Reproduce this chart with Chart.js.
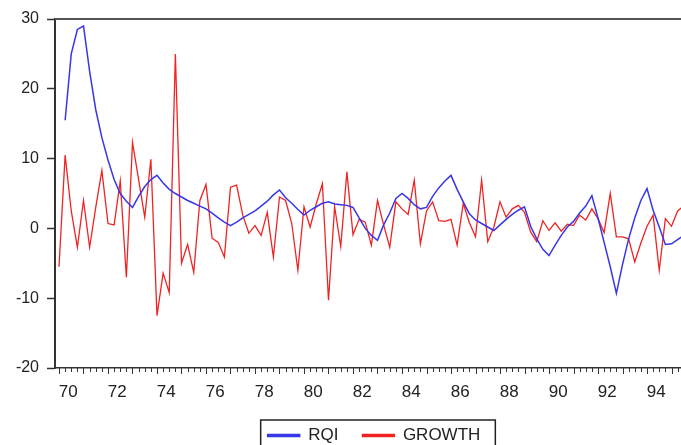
<!DOCTYPE html>
<html>
<head>
<meta charset="utf-8">
<script src="https://cdn.jsdelivr.net/npm/chart.js@4.4.1/dist/chart.umd.min.js"></script>
<style>
    html, body { margin: 0; padding: 0; background: #fff; overflow: hidden; }
    #wrap { width: 681px; height: 445px; overflow: hidden; }
</style>
</head>
<body>
<div id="wrap"><canvas id="chart" width="748" height="454"></canvas></div>
<script>
// Quarterly data, first observation 1970Q1
const startYear = 1970;

const growth = [
    -5.5, 10.5, 2.5, -2.7, 4.0, -2.7, 3.0, 8.3, 0.7, 0.5,
    6.8, -7.0, 12.3, 7.0, 1.6, 9.9, -12.5, -6.4, -9.2, 25.0,
    -5.0, -2.3, -6.3, 4.0, 6.3, -1.4, -2.0, -4.1, 5.9, 6.2,
    1.9, -0.7, 0.4, -1.0, 2.3, -4.1, 4.5, 4.0, 0.7, -6.0,
    3.1, 0.2, 3.5, 6.4, -10.3, 3.1, -2.6, 8.1, -0.9, 1.3,
    0.9, -2.4, 4.0, 0.5, -2.7, 3.8, 2.8, 2.0, 6.9, -2.2,
    2.5, 3.8, 1.1, 1.0, 1.3, -2.4, 3.6, 0.8, -1.2, 6.9,
    -1.9, 0.2, 3.8, 1.6, 2.8, 3.3, 2.3, -0.5, -1.9, 1.1,
    -0.3, 0.8, -0.4, 0.6, 0.4, 1.9, 1.2, 2.8, 1.4, -0.6,
    5.0, -1.2, -1.2, -1.5, -4.8, -2.1, 0.3, 1.9, -6.0, 1.4,
    0.3, 2.5, 3.2
];

const rqi = [
    null, 15.5, 25.0, 28.5, 29.0, 22.5, 17.0, 13.0, 9.8, 7.0,
    5.0, 3.9, 3.0, 4.6, 6.0, 7.0, 7.6, 6.5, 5.6, 5.0,
    4.5, 4.0, 3.6, 3.2, 2.8, 2.2, 1.5, 0.9, 0.4, 0.9,
    1.5, 2.0, 2.5, 3.2, 3.9, 4.8, 5.5, 4.4, 3.6, 2.7,
    1.9, 2.6, 3.1, 3.6, 3.8, 3.5, 3.4, 3.3, 3.0, 1.5,
    0.0, -1.0, -1.7, 0.5, 2.2, 4.3, 5.0, 4.3, 3.4, 2.8,
    3.0, 4.6, 5.8, 6.8, 7.6, 5.6, 3.8, 2.1, 1.2, 0.7,
    0.2, -0.3, 0.5, 1.3, 2.0, 2.6, 3.1, 0.3, -1.5, -3.0,
    -3.9, -2.4, -1.0, 0.2, 1.0, 2.2, 3.2, 4.7, 1.5, -2.0,
    -5.5, -9.3, -5.2, -1.5, 1.5, 4.0, 5.7, 2.6, 0.2, -2.3,
    -2.2, -1.6, -1.0
];

const labelYears = [1970, 1972, 1974, 1976, 1978, 1980, 1982, 1984, 1986, 1988, 1990, 1992, 1994];
const yTicks = [-20, -10, 0, 10, 20, 30];

const FONT = "'Liberation Sans', Arial, sans-serif";
const NARROW = "'Liberation Sans Narrow', 'Liberation Sans', Arial, sans-serif";
const AXIS = '#333';

function toPoints(values) {
    return values.map((v, i) => ({ x: startYear + i / 4, y: v }));
}

// pixels per year on the x axis, used to set the visible window
const pxPerYear = 24.5;
const xMin = startYear - 4 / pxPerYear;

// Frame line on top, quarter ticks on the x axis, box round the legend
const framePlugin = {
    id: 'frame',
    afterDraw(chart) {
        const ctx = chart.ctx;
        const area = chart.chartArea;
        const xs = chart.scales.x;
        ctx.save();
        ctx.strokeStyle = '#555';
        ctx.lineWidth = 2;
        ctx.beginPath();
        ctx.moveTo(area.left, area.top);
        ctx.lineTo(area.right, area.top);
        ctx.stroke();

        ctx.strokeStyle = AXIS;
        ctx.lineWidth = 1;
        ctx.beginPath();
        for (let t = startYear; t <= xs.max; t += 0.25) {
            const px = Math.round(xs.getPixelForValue(t)) + 0.5;
            const isYear = Math.abs(t - Math.round(t)) < 1e-6;
            ctx.moveTo(px, area.bottom);
            ctx.lineTo(px, area.bottom + (isYear ? 6 : 4));
        }
        ctx.stroke();

        const boxes = chart.legend.legendHitBoxes;
        if (boxes && boxes.length) {
            const first = boxes[0];
            const last = boxes[boxes.length - 1];
            ctx.strokeStyle = '#222';
            ctx.lineWidth = 1.5;
            ctx.strokeRect(first.left - 7, first.top - 7, last.left + last.width + 15 - (first.left - 7), 32);
        }
        ctx.restore();
    }
};

const chart = new Chart(document.getElementById('chart').getContext('2d'), {
    type: 'line',
    data: {
        datasets: [
            {
                label: 'RQI',
                data: toPoints(rqi),
                borderColor: 'rgb(55, 55, 232)',
                backgroundColor: 'rgb(55, 55, 232)',
                borderWidth: 1.5,
                pointRadius: 0,
                tension: 0,
                spanGaps: false
            },
            {
                label: 'GROWTH',
                data: toPoints(growth),
                borderColor: 'rgb(240, 35, 35)',
                backgroundColor: 'rgb(240, 35, 35)',
                borderWidth: 1.3,
                pointRadius: 0,
                tension: 0
            }
        ]
    },
    options: {
        responsive: false,
        animation: false,
        layout: { padding: { top: 19, left: 0, right: 0, bottom: 0 } },
        plugins: {
            legend: {
                position: 'bottom',
                labels: {
                    boxWidth: 32,
                    boxHeight: 2,
                    padding: 24,
                    color: '#222',
                    font: { family: NARROW, size: 17 }
                }
            },
            tooltip: { enabled: false }
        },
        scales: {
            x: {
                type: 'linear',
                min: xMin,
                max: xMin + (748 - 55) / pxPerYear,
                afterBuildTicks: scale => {
                    // label sits in the middle of the four quarters of the year
                    scale.ticks = labelYears.map(y => ({ value: y + 0.375 }));
                },
                afterFit: scale => { scale.height = 35; },
                ticks: {
                    autoSkip: false,
                    maxRotation: 0,
                    padding: 14,
                    color: '#222',
                    font: { family: NARROW, size: 17 },
                    callback: v => String(Math.floor(v)).slice(2)
                },
                grid: { drawOnChartArea: false, drawTicks: false },
                border: { color: AXIS, width: 1.5 }
            },
            y: {
                min: -20,
                max: 30,
                afterBuildTicks: scale => {
                    scale.ticks = yTicks.map(v => ({ value: v }));
                },
                afterFit: scale => { scale.width = 55; },
                ticks: {
                    padding: 8,
                    color: '#222',
                    font: { family: FONT, size: 16 }
                },
                grid: { drawOnChartArea: false, tickLength: 8, tickColor: AXIS, tickWidth: 1.5 },
                border: { color: AXIS, width: 2 }
            }
        }
    },
    plugins: [framePlugin]
});
</script>
</body>
</html>
